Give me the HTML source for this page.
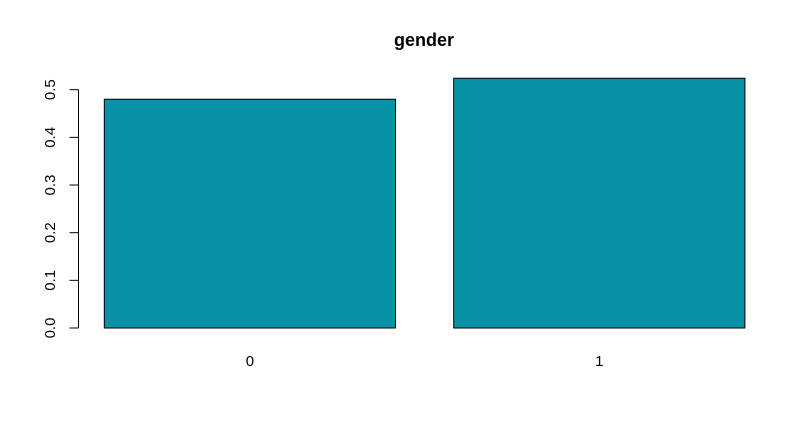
<!DOCTYPE html>
<html><head><meta charset="utf-8">
<style>
html,body{margin:0;padding:0;background:#fff;}
svg{display:block;font-family:"Liberation Sans",Arial,sans-serif;}
</style></head>
<body>
<svg id="chart" width="810" height="429" viewBox="0 0 810 429">
<text x="424" y="46" text-anchor="middle" font-size="18" font-weight="bold">gender</text>
<g id="bars"></g>
<g id="yaxis"></g>
<g id="xlabels"></g>
</svg>
<script>
const categories = ["0", "1"];
const values = [0.480, 0.524];
const yTicks = [0, 0.1, 0.2, 0.3, 0.4, 0.5];
const yTickLabels = ["0.0", "0.1", "0.2", "0.3", "0.4", "0.5"];

const NS = "http://www.w3.org/2000/svg";
const y0 = 328, pxPerUnit = 476.6;
function yScale(v){ return y0 - v * pxPerUnit; }
const barW = 291.2, gap = 58.2, xStart = 104.3;
function xLeft(i){ return xStart + i * (barW + gap); }

const bars = document.getElementById("bars");
const xl = document.getElementById("xlabels");
categories.forEach((c, i) => {
  const r = document.createElementNS(NS, "rect");
  
  
  r.setAttribute("x", xLeft(i));
  r.setAttribute("y", yScale(values[i]));
  r.setAttribute("width", barW);
  r.setAttribute("height", y0 - yScale(values[i]));
  r.setAttribute("fill", "#0892A6");
  r.setAttribute("stroke", "#000");
  r.setAttribute("stroke-width", "1");
  bars.appendChild(r);
  const t = document.createElementNS(NS, "text");
  
  
  t.setAttribute("x", xLeft(i) + barW / 2);
  t.setAttribute("y", 366);
  t.setAttribute("text-anchor", "middle");
  t.setAttribute("font-size", "15");
  t.textContent = c;
  xl.appendChild(t);
});

const ya = document.getElementById("yaxis");
const axisX = 78.5;
const line = document.createElementNS(NS, "line");


line.setAttribute("x1", axisX); line.setAttribute("x2", axisX);
line.setAttribute("y1", yScale(yTicks[0])); line.setAttribute("y2", yScale(yTicks[yTicks.length-1]));
line.setAttribute("stroke", "#000");
ya.appendChild(line);
yTicks.forEach((v, i) => {
  const tk = document.createElementNS(NS, "line");
  
  
  tk.setAttribute("x1", axisX - 9); tk.setAttribute("x2", axisX);
  tk.setAttribute("y1", yScale(v)); tk.setAttribute("y2", yScale(v));
  tk.setAttribute("stroke", "#000");
  ya.appendChild(tk);
  const t = document.createElementNS(NS, "text");
  
  
  const ty = yScale(v);
  t.setAttribute("transform", "translate(55," + ty + ") rotate(-90)");
  t.setAttribute("text-anchor", "middle");
  t.setAttribute("font-size", "15");
  t.textContent = yTickLabels[i];
  ya.appendChild(t);
});
</script>
</body></html>
